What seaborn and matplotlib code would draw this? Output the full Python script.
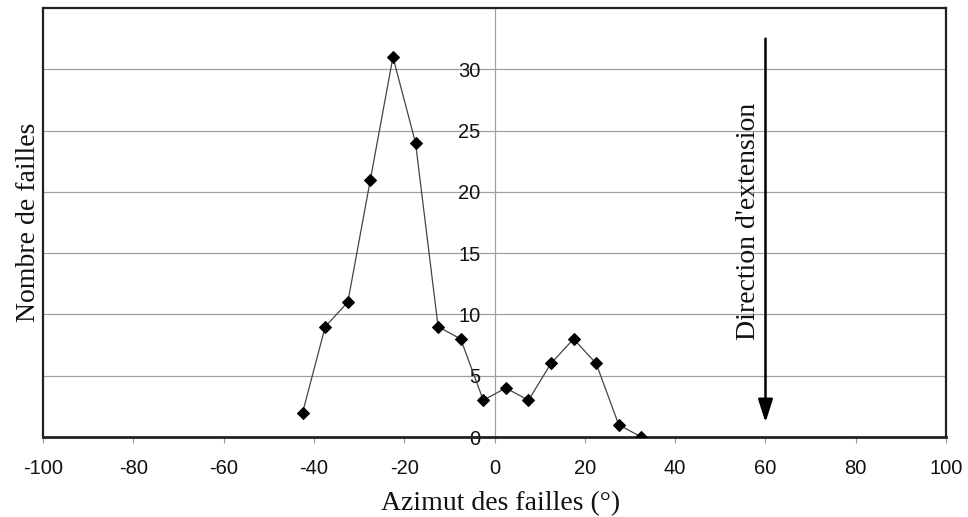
import matplotlib
matplotlib.use("Agg")
import matplotlib.pyplot as plt
import seaborn as sns
import pandas as pd

azimut = [-42.5, -37.5, -32.5, -27.5, -22.5, -17.5, -12.5, -7.5, -2.5,
          2.5, 7.5, 12.5, 17.5, 22.5, 27.5, 32.5]
nombre = [2, 9, 11, 21, 31, 24, 9, 8, 3, 4, 3, 6, 8, 6, 1, 0]
x_ticks = [-100, -80, -60, -40, -20, 0, 20, 40, 60, 80, 100]
y_ticks = [0, 5, 10, 15, 20, 25, 30]
arrow_x = 60

df = pd.DataFrame({"azimut": azimut, "nombre": nombre})

sns.set_style("white")
plt.rcParams["font.family"] = ["Liberation Sans", "DejaVu Sans"]

fig = plt.figure(figsize=(9.68, 5.17), dpi=100)
ax = fig.add_axes([0.0444, 0.1547, 0.9330, 0.8298])

for y in y_ticks[1:]:
    ax.axhline(y, color="#a0a0a0", lw=0.9, zorder=0)

sns.lineplot(data=df, x="azimut", y="nombre", ax=ax, color="#444444", lw=0.9,
             marker="D", markersize=6, markerfacecolor="black",
             markeredgecolor="black", zorder=3)

ax.spines["left"].set_position(("data", 0))
ax.spines["left"].set_color("#a0a0a0")
ax.spines["left"].set_linewidth(0.9)
ax.spines["bottom"].set_linewidth(2.0)
ax.spines["bottom"].set_color("#222222")
for s in ["top", "right"]:
    ax.spines[s].set_linewidth(1.6)
    ax.spines[s].set_color("#222222")
ax.plot([0, 0], [0, 1], transform=ax.transAxes, color="#222222", lw=1.6,
        clip_on=False, zorder=5)

ax.set_xlim(-100, 100)
ax.set_ylim(0, 35)
ax.set_xticks(x_ticks)
ax.set_xticklabels([str(t) for t in x_ticks])
ax.set_yticks(y_ticks)
ax.set_yticklabels([str(t) for t in y_ticks])

ax.tick_params(axis="y", length=0, pad=10, labelsize=14.5, labelcolor="#111111")
ax.tick_params(axis="x", direction="out", length=4, width=0.8, color="#999999",
               bottom=True, pad=12, labelsize=14.5, labelcolor="#111111")

ax.set_xlabel("Azimut des failles (°)", fontsize=20, family="Liberation Serif",
              labelpad=9, color="#111111")
ax.xaxis.label.set_x(0.507)
ax.set_ylabel("")
fig.text(0.029, 0.57, "Nombre de failles", rotation=90, fontsize=20,
         family="Liberation Serif", ha="center", va="center", color="#111111")

ax.annotate("", xy=(arrow_x, 1.2), xytext=(arrow_x, 32.5),
            arrowprops=dict(arrowstyle="-|>,head_length=1.4,head_width=0.45",
                            color="black", lw=1.8, shrinkA=0, shrinkB=0))
ax.text(arrow_x - 1.0, 17.6, "Direction d'extension", rotation=90, fontsize=20,
        family="Liberation Serif", ha="right", va="center", color="#111111")

fig.savefig("out.png", dpi=100)
